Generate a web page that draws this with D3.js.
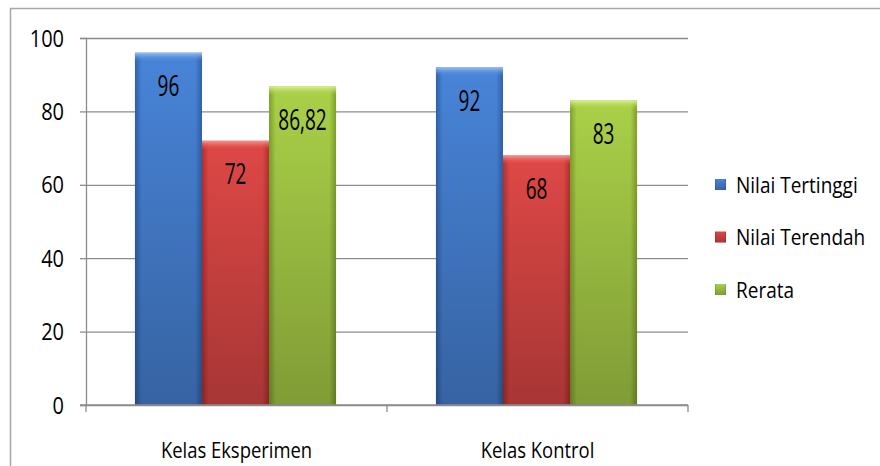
<!DOCTYPE html>
<html>
<head>
<meta charset="utf-8">
<script src="https://cdnjs.cloudflare.com/ajax/libs/d3/7.8.5/d3.min.js"></script>
<style>
  body { margin: 0; background: #fff; }
  text { font-family: "Open Sans", sans-serif; fill: #000; }
</style>
</head>
<body>
<div id="chart"></div>
<script>
const categories = ['Kelas Eksperimen', 'Kelas Kontrol'];
const seriesNames = ['Nilai Tertinggi', 'Nilai Terendah', 'Rerata'];
const tertinggi = [96, 92];
const terendah = [72, 68];
const rerata = [86.82, 83];
const valueLabels = [['96', '72', '86,82'], ['92', '68', '83']];
const yTicks = [0, 20, 40, 60, 80, 100];

const colors = [
  { mid: '#4884d8', edge: '#2f62ac', top: '#9cc0f0' },
  { mid: '#de4846', edge: '#b2302e', top: '#f49896' },
  { mid: '#aad048', edge: '#7fa22c', top: '#d8f090' }
];

const W = 880, H = 466;
const plotL = 86, plotR = 688, plotT = 38, plotB = 405;

const svg = d3.select('#chart').append('svg').attr('width', W).attr('height', H);

// outer frame
svg.append('rect').attr('x', 10.5).attr('y', 8.5).attr('width', 880).attr('height', 470)
  .attr('fill', 'none').attr('stroke', '#a6a6a6').attr('stroke-width', 1.5);

const x0 = d3.scaleBand().domain(categories).range([plotL, plotR]).paddingInner(0).paddingOuter(0);
const x1 = d3.scaleBand().domain(seriesNames).range([0, x0.bandwidth()]).paddingInner(0).paddingOuter(0.745);
const y = d3.scaleLinear().domain([0, 100]).range([plotB, plotT]);

const defs = svg.append('defs');
colors.forEach((c, i) => {
  const g = defs.append('linearGradient').attr('id', 'g' + i).attr('x1', 0).attr('x2', 1).attr('y1', 0).attr('y2', 0);
  g.append('stop').attr('offset', '0%').attr('stop-color', c.edge);
  g.append('stop').attr('offset', '10%').attr('stop-color', c.mid);
  g.append('stop').attr('offset', '90%').attr('stop-color', c.mid);
  g.append('stop').attr('offset', '100%').attr('stop-color', c.edge);
  const t = defs.append('linearGradient').attr('id', 't' + i).attr('x1', 0).attr('x2', 0).attr('y1', 0).attr('y2', 1);
  t.append('stop').attr('offset', '0%').attr('stop-color', c.top);
  t.append('stop').attr('offset', '100%').attr('stop-color', c.mid).attr('stop-opacity', 0);
});
const shade = defs.append('linearGradient').attr('id', 'shade').attr('x1', 0).attr('x2', 0).attr('y1', 0).attr('y2', 1);
shade.append('stop').attr('offset', '0%').attr('stop-color', '#000').attr('stop-opacity', 0);
shade.append('stop').attr('offset', '100%').attr('stop-color', '#000').attr('stop-opacity', 0.25);

// gridlines
svg.append('g')
  .attr('transform', `translate(${plotL},0)`)
  .call(d3.axisLeft(y).tickValues(yTicks).tickSize(-(plotR - plotL)).tickFormat(''))
  .call(g => g.select('.domain').remove())
  .call(g => g.selectAll('line').attr('stroke', '#8c8c8c').attr('stroke-width', 1.3));

// y axis
svg.append('g')
  .attr('transform', `translate(${plotL},0)`)
  .call(d3.axisLeft(y).tickValues(yTicks).tickSize(6).tickFormat(''))
  .call(g => g.select('.domain').attr('stroke', '#8c8c8c').attr('stroke-width', 1.3))
  .call(g => g.selectAll('line').attr('stroke', '#8c8c8c').attr('stroke-width', 1.3));

svg.append('g').selectAll('text').data(yTicks).join('text')
  .attr('transform', d => `translate(${plotL - 22},${y(d)}) scale(1,1.2)`)
  .attr('text-anchor', 'end').attr('dy', '0.36em')
  .style('font-size', '20px')
  .text(d => d);

const data = categories.map((c, i) => ({
  cat: c,
  vals: [tertinggi[i], terendah[i], rerata[i]],
  labels: valueLabels[i]
}));

const groups = svg.append('g').selectAll('g').data(data).join('g')
  .attr('transform', d => `translate(${x0(d.cat) - 1},0)`);

groups.each(function (d) {
  const g = d3.select(this);
  d.vals.forEach((v, i) => {
    const bx = x1(seriesNames[i]), bw = x1.bandwidth();
    g.append('rect').attr('x', bx).attr('y', y(v)).attr('width', bw).attr('height', y(0) - y(v))
      .attr('fill', `url(#g${i})`);
    g.append('rect').attr('x', bx).attr('y', y(v)).attr('width', bw).attr('height', y(0) - y(v))
      .attr('fill', 'url(#shade)');
    g.append('rect').attr('x', bx).attr('y', y(v)).attr('width', bw).attr('height', 9)
      .attr('fill', `url(#t${i})`);
    g.append('text')
      .attr('transform', `translate(${bx + bw / 2},${y(v) + 33}) scale(0.95,1.45)`)
      .attr('text-anchor', 'middle').attr('dy', '0.36em').style('font-size', '20px')
      .text(d.labels[i]);
  });
});

// x axis
svg.append('g')
  .attr('transform', `translate(0,${plotB})`)
  .call(d3.axisBottom(x0).tickSize(0).tickFormat(''))
  .call(g => g.select('.domain').attr('stroke', '#8c8c8c').attr('stroke-width', 1.3).attr('d', `M${plotL - 6},0H${plotR}`));

svg.append('g').selectAll('line').data([plotL, plotL + x0.bandwidth(), plotR]).join('line')
  .attr('x1', d => d).attr('x2', d => d).attr('y1', plotB).attr('y2', plotB + 7)
  .attr('stroke', '#8c8c8c').attr('stroke-width', 1.3);

svg.append('g').selectAll('text').data(categories).join('text')
  .attr('transform', d => `translate(${x0(d) + x0.bandwidth() / 2},450) scale(0.97,1.15)`)
  .attr('text-anchor', 'middle').attr('dy', '0.36em').style('font-size', '19px')
  .text(d => d);

// legend
const legend = svg.append('g').selectAll('g').data(seriesNames).join('g')
  .attr('transform', (d, i) => `translate(715,${185 + i * 52.5})`);
legend.append('rect').attr('x', 0).attr('y', -6).attr('width', 11).attr('height', 11)
  .attr('fill', (d, i) => `url(#g${i})`);
legend.append('rect').attr('x', 0).attr('y', -6).attr('width', 11).attr('height', 11)
  .attr('fill', 'url(#shade)');
legend.append('text').attr('transform', 'translate(21,0) scale(1,1.15)').attr('dy', '0.36em')
  .style('font-size', '19px')
  .text(d => d);
</script>
</body>
</html>
